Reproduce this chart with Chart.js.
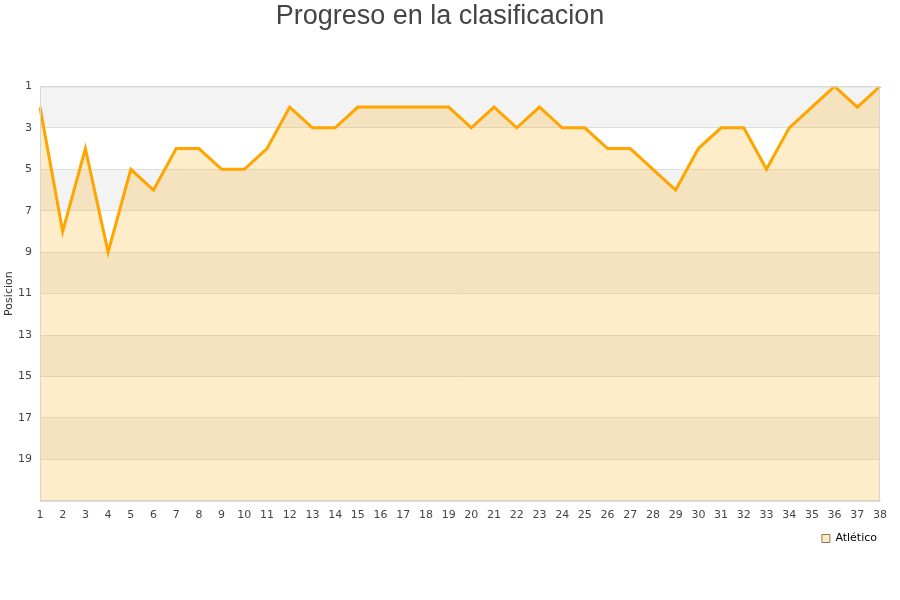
<!DOCTYPE html>
<html>
<head>
<meta charset="utf-8">
<script src="https://cdn.jsdelivr.net/npm/chart.js@4/dist/chart.umd.min.js"></script>
<style>
  html, body { margin: 0; padding: 0; background: #fff; }
  #wrap { width: 900px; height: 600px; }
</style>
</head>
<body>
<div id="wrap"><canvas id="chart" width="900" height="600"></canvas></div>
<script>
// ---------- DATA ----------
const jornadas = ["1","2","3","4","5","6","7","8","9","10","11","12","13","14","15","16","17","18","19","20",
  "21","22","23","24","25","26","27","28","29","30","31","32","33","34","35","36","37","38"];
const atletico = [2, 8, 4, 9, 5, 6, 4, 4, 5, 5, 4, 2, 3, 3, 2, 2, 2, 2, 2, 3,
  2, 3, 2, 3, 3, 4, 4, 5, 6, 4, 3, 3, 5, 3, 2, 1, 2, 1];
const posTicks = [1, 3, 5, 7, 9, 11, 13, 15, 17, 19, 21];

// ---------- BACKGROUND STRIPES ----------
const stripes = {
  id: "stripes",
  beforeDraw(chart) {
    const { ctx, chartArea: a, scales: { y } } = chart;
    ctx.save();
    for (let i = 0; i < posTicks.length - 1; i++) {
      if (i % 2 !== 0) continue;
      const y1 = y.getPixelForValue(posTicks[i]);
      const y2 = y.getPixelForValue(posTicks[i + 1]);
      ctx.fillStyle = "#f3f3f3";
      ctx.fillRect(a.left, y1, a.right - a.left, y2 - y1);
    }
    ctx.restore();
  },
  afterDraw(chart) {
    const { ctx, chartArea: a } = chart;
    ctx.save();
    ctx.strokeStyle = "#d6d6d6";
    ctx.lineWidth = 1;
    ctx.strokeRect(a.left + 0.5, a.top + 0.5, a.right - a.left - 1, a.bottom - a.top);
    ctx.restore();
  }
};

// ---------- CHART ----------
new Chart(document.getElementById("chart"), {
  type: "line",
  data: {
    labels: jornadas,
    datasets: [{
      label: "Atlético",
      data: atletico,
      borderColor: "#ffa500",
      borderWidth: 3,
      backgroundColor: "rgba(255,165,0,0.21)",
      fill: "start",
      pointRadius: 0,
      tension: 0
    }]
  },
  plugins: [stripes],
  options: {
    responsive: false,
    animation: false,
    layout: { padding: { left: 0, right: 20, top: 0, bottom: 46 } },
    plugins: {
      title: {
        display: true,
        text: "Progreso en la clasificacion",
        color: "#444",
        font: { family: "Liberation Sans", size: 27, weight: "normal" },
        padding: { top: 0, bottom: 54 }
      },
      legend: {
        position: "bottom",
        align: "end",
        labels: {
          color: "#000",
          font: { family: "DejaVu Sans", size: 11 },
          boxWidth: 8,
          boxHeight: 8,
          padding: 3,
          generateLabels: (chart) => [{
            text: "Atlético",
            fillStyle: "#fde9c4",
            strokeStyle: "#8a7a5a",
            lineWidth: 1,
            datasetIndex: 0
          }]
        }
      },
      tooltip: { enabled: false }
    },
    scales: {
      x: {
        offset: false,
        grid: { display: false, drawTicks: false },
        border: { color: "#d6d6d6" },
        ticks: {
          color: "#444",
          font: { family: "DejaVu Sans", size: 11 },
          maxRotation: 0,
          autoSkip: false,
          padding: 8
        }
      },
      y: {
        reverse: true,
        min: 1,
        max: 21,
        afterBuildTicks: (s) => { s.ticks = posTicks.map(v => ({ value: v })); },
        afterFit: (s) => { s.width = 40; },
        grid: { color: "rgba(200,200,200,0.5)", drawTicks: false },
        border: { color: "#d6d6d6" },
        title: {
          display: true,
          text: "Posicion",
          color: "#333",
          font: { family: "DejaVu Sans", size: 11 },
          padding: 3
        },
        ticks: {
          color: "#444",
          font: { family: "DejaVu Sans", size: 11 },
          padding: 8,
          callback: (v) => v === 21 ? "" : v
        }
      }
    }
  }
});
</script>
</body>
</html>
